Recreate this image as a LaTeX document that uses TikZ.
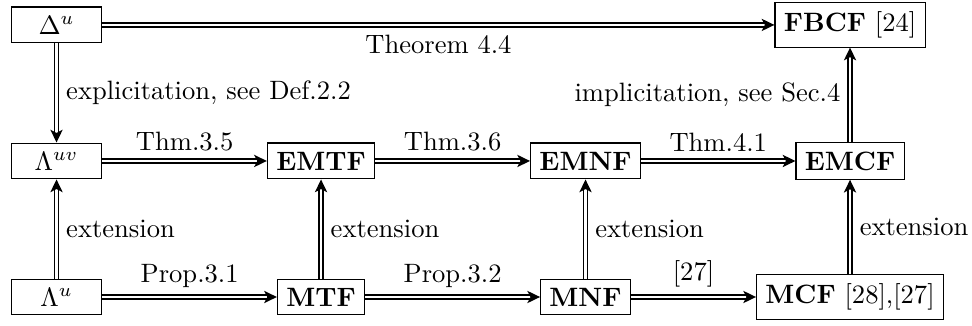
\documentclass[tikz,border=0pt]{standalone}
\usepackage{tikz}
\usetikzlibrary{positioning,arrows.meta}
\tikzstyle{ModelBox}=[rectangle, draw, minimum width=12mm]
\tikzstyle{FormBox}=[rectangle, draw]
\tikzstyle{Implica}=[double, line width=0.65pt, double distance=0.9pt, -{Stealth[length=4.8pt,width=4.6pt,inset=1.2pt]}]

\begin{document}
\begin{tikzpicture}[node distance=1.8cm and 3.5cm, on grid]
			\useasboundingbox (-0.748,-0.371) rectangle (12.114,3.930);
			%Nodos
			\node[ModelBox]	(lu)					{$\Lambda^{u}$};
			\node[ModelBox]	(luv)	[above=of lu]	{$\Lambda^{uv}$};
			\node[ModelBox]	(du)	[above=of luv]	{$\Delta^{u}$};

			\node[FormBox]	(mtf)	[right=of lu]	{\textbf{MTF}};
			\node[FormBox]	(emtf)	[above=of mtf]	{\textbf{EMTF}};

			\node[FormBox]	(mnf)	[right=of mtf]	{\textbf{MNF}};
			\node[FormBox]	(emnf)	[above=of mnf]	{\textbf{EMNF}};

			\node[FormBox]	(mcf)	[right=of mnf]	{\textbf{MCF} [28],[27]};
			\node[FormBox]	(emcf)	[above=of mcf]	{\textbf{EMCF}};
			\node[FormBox]	(fbcf)	[above=of emcf]	{\textbf{FBCF} [24]};

			%Lineas
			\draw[Implica] (du.east) -- node[below] {Theorem 4.4} (fbcf.west);
			\draw[Implica] (du.south) -- node[right] {explicitation, see Def.2.2} (luv.north);
			\draw[Implica] (emcf.north) -- node[left] {implicitation, see Sec.4} (fbcf.south);

			\draw[Implica] (luv.east) -- node[above] {Thm.3.5} (emtf.west);
			\draw[Implica] (emtf.east) -- node[above] {Thm.3.6} (emnf.west);
			\draw[Implica] (emnf.east) -- node[above] {Thm.4.1} (emcf.west);

			\draw[Implica] (lu.north) -- node[right] {extension} (luv.south);
			\draw[Implica] (mtf.north) -- node[right] {extension} (emtf.south);
			\draw[Implica] (mnf.north) -- node[right] {extension} (emnf.south);
			\draw[Implica] (mcf.north) -- node[right] {extension} (emcf.south);

			\draw[Implica] (lu.east) -- node[above] {Prop.3.1} (mtf.west);
			\draw[Implica] (mtf.east) -- node[above] {Prop.3.2} (mnf.west);
			\draw[Implica] (mnf.east) -- node[above] {[27]} (mcf.west);

		\end{tikzpicture}
\end{document}
